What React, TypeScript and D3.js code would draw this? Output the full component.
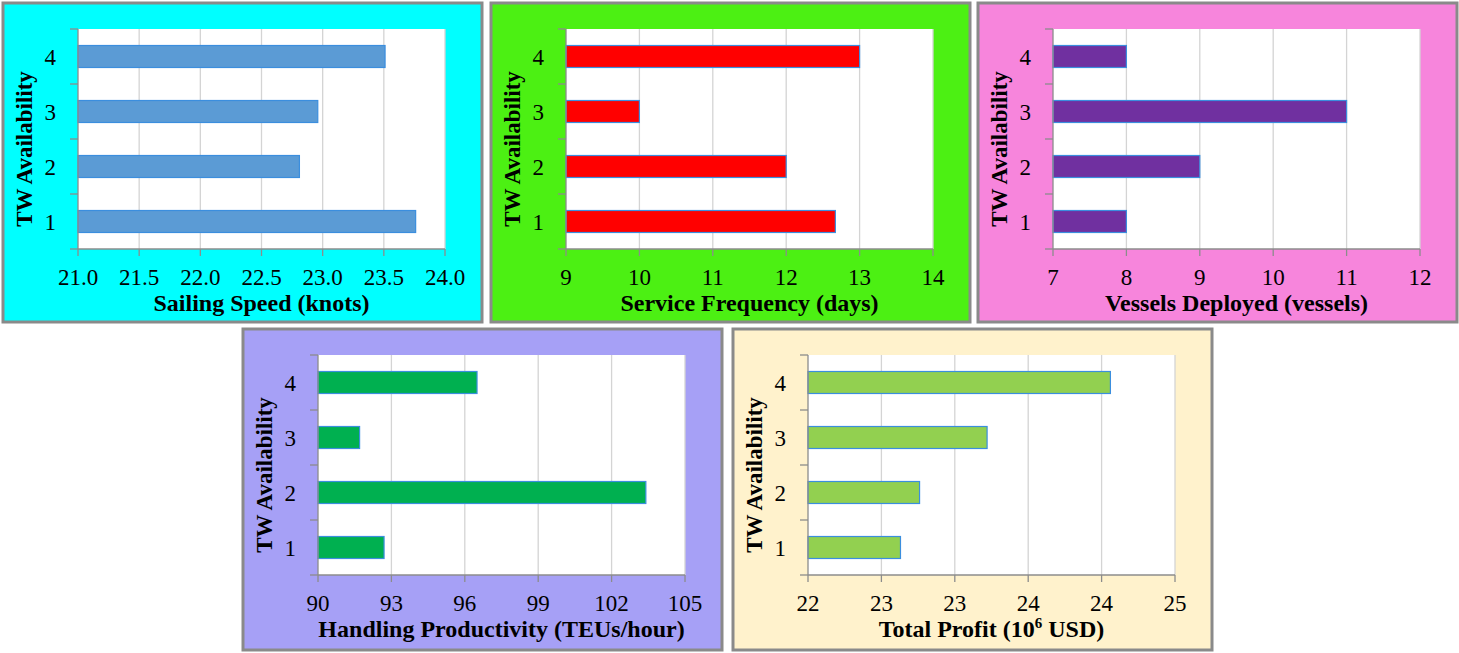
import React from "react";
import * as d3 from "d3";

const categories = ["1", "2", "3", "4"];

const sailingSpeed = [23.76, 22.81, 22.96, 23.51];
const serviceFrequency = [12.67, 12, 10, 13];
const vesselsDeployed = [8, 9, 11, 8];
const handlingProductivity = [92.7, 103.4, 91.7, 96.5];
const totalProfit = [22.63, 22.76, 23.22, 24.06];

const speedTicks = [21, 21.5, 22, 22.5, 23, 23.5, 24];
const speedTickLabels = ["21.0", "21.5", "22.0", "22.5", "23.0", "23.5", "24.0"];
const freqTicks = [9, 10, 11, 12, 13, 14];
const freqTickLabels = ["9", "10", "11", "12", "13", "14"];
const vesselTicks = [7, 8, 9, 10, 11, 12];
const vesselTickLabels = ["7", "8", "9", "10", "11", "12"];
const prodTicks = [90, 93, 96, 99, 102, 105];
const prodTickLabels = ["90", "93", "96", "99", "102", "105"];
const profitTicks = [22, 22.5, 23, 23.5, 24, 24.5];
const profitTickLabels = ["22", "23", "23", "24", "24", "25"];

const yTitle = "TW Availability";

type PanelSpec = {
  x: number;
  y: number;
  h: number;
  bg: string;
  barFill: string;
  values: number[];
  ticks: number[];
  tickLabels: string[];
  title: React.ReactNode;
};

const W = 479;
const PL = 75;
const PR = 442;
const PT = 26;
const PB = 246;

const Panel = ({ spec }: { spec: PanelSpec }) => {
  const x = d3
    .scaleLinear()
    .domain([spec.ticks[0], spec.ticks[spec.ticks.length - 1]])
    .range([PL, PR]);
  const y = d3
    .scaleBand()
    .domain([...categories].reverse())
    .range([PT, PB])
    .paddingInner(0.6)
    .paddingOuter(0.3);
  const bandStep = (PB - PT) / categories.length;
  const boundaries = d3.range(categories.length + 1).map((i) => PT + i * bandStep);
  const serif = "'Liberation Serif', 'Times New Roman', serif";
  return (
    <g transform={`translate(${spec.x},${spec.y})`}>
      <rect x={0} y={0} width={W} height={spec.h} fill={spec.bg} stroke="#8a8a8a" strokeWidth={3} />
      <rect x={PL} y={PT} width={PR - PL} height={PB - PT} fill="#ffffff" />
      {spec.ticks.slice(1).map((t, i) => (
        <line key={"g" + i} x1={x(t)} x2={x(t)} y1={PT} y2={PB} stroke="#d4d4d4" strokeWidth={1.3} />
      ))}
      {categories.map((c, i) => (
        <rect
          key={"b" + c}
          x={x(spec.ticks[0])}
          y={y(c)!}
          width={x(spec.values[i]) - x(spec.ticks[0])}
          height={y.bandwidth()}
          fill={spec.barFill}
          stroke="#3b8ede"
          strokeWidth={1.2}
        />
      ))}
      <line x1={PL} x2={PL} y1={PT} y2={PB} stroke="#8c8c8c" strokeWidth={1.3} />
      <line x1={PL} x2={PR} y1={PB} y2={PB} stroke="#8c8c8c" strokeWidth={1.3} />
      {boundaries.map((b, i) => (
        <line key={"yt" + i} x1={PL - 8} x2={PL} y1={b} y2={b} stroke="#8c8c8c" strokeWidth={1.3} />
      ))}
      {spec.ticks.map((t, i) => (
        <line key={"xt" + i} x1={x(t)} x2={x(t)} y1={PB} y2={PB + 7} stroke="#8c8c8c" strokeWidth={1.3} />
      ))}
      {spec.ticks.map((t, i) => (
        <text
          key={"xl" + i}
          x={x(t)}
          y={282}
          textAnchor="middle"
          fontFamily={serif}
          fontSize={23}
          fill="#000"
        >
          {spec.tickLabels[i]}
        </text>
      ))}
      {categories.map((c) => (
        <text
          key={"yl" + c}
          x={53}
          y={y(c)! + y.bandwidth() / 2}
          dy="0.35em"
          textAnchor="end"
          fontFamily={serif}
          fontSize={23}
          fill="#000"
        >
          {c}
        </text>
      ))}
      <text
        transform={`translate(29,${(PT + PB) / 2 + 10}) rotate(-90)`}
        textAnchor="middle"
        fontFamily={serif}
        fontWeight="bold"
        fontSize={23}
        fill="#000"
      >
        {yTitle}
      </text>
      <text
        x={(PL + PR) / 2}
        y={308}
        textAnchor="middle"
        fontFamily={serif}
        fontWeight="bold"
        fontSize={24}
        fill="#000"
      >
        {spec.title}
      </text>
    </g>
  );
};

const panels: PanelSpec[] = [
  {
    x: 3, y: 3, h: 319, bg: "#00ffff", barFill: "#5b9bd5",
    values: sailingSpeed, ticks: speedTicks, tickLabels: speedTickLabels,
    title: "Sailing  Speed (knots)",
  },
  {
    x: 491, y: 3, h: 319, bg: "#4cf013", barFill: "#ff0000",
    values: serviceFrequency, ticks: freqTicks, tickLabels: freqTickLabels,
    title: "Service Frequency (days)",
  },
  {
    x: 978, y: 3, h: 319, bg: "#f785dc", barFill: "#7030a0",
    values: vesselsDeployed, ticks: vesselTicks, tickLabels: vesselTickLabels,
    title: "Vessels Deployed (vessels)",
  },
  {
    x: 243, y: 329, h: 321, bg: "#a6a0f6", barFill: "#00b050",
    values: handlingProductivity, ticks: prodTicks, tickLabels: prodTickLabels,
    title: "Handling Productivity (TEUs/hour)",
  },
  {
    x: 733, y: 329, h: 321, bg: "#fff2cc", barFill: "#92d050",
    values: totalProfit, ticks: profitTicks, tickLabels: profitTickLabels,
    title: (
      <>
        Total Profit (10
        <tspan dy={-9} fontSize={15}>6</tspan>
        <tspan dy={9}> USD)</tspan>
      </>
    ),
  },
];

export default function App() {
  return (
    <div style={{ position: "absolute", left: 0, top: 0 }}>
      <svg width={1459} height={653} style={{ display: "block", background: "#ffffff" }}>
        {panels.map((p, i) => (
          <Panel key={i} spec={p} />
        ))}
      </svg>
    </div>
  );
}
